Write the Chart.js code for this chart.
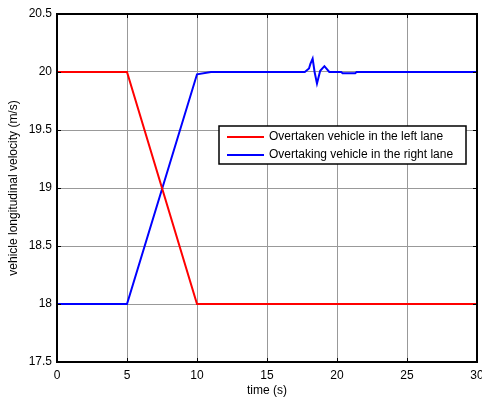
<!DOCTYPE html>
<html>
<head>
<meta charset="utf-8">
<script src="https://cdn.jsdelivr.net/npm/chart.js@4.4.0/dist/chart.umd.min.js"></script>
<style>
  html, body { margin: 0; padding: 0; background: #fff; }
  #wrap { width: 482px; height: 398px; }
</style>
</head>
<body>
<div id="wrap"><canvas id="chart"></canvas></div>
<script>
// Data
const seriesLabels = ['Overtaken vehicle in the left lane', 'Overtaking vehicle in the right lane'];
const timeLeft = [0, 5, 10, 30];
const speedLeft = [20, 20, 18, 18];
const timeRight = [0, 5, 10, 11, 17.7, 18.0, 18.1, 18.26, 18.4, 18.57, 18.8, 19.1, 19.45, 20.3, 20.4, 21.3, 21.4, 30];
const speedRight = [18, 18, 19.98, 20, 20, 20.03, 20.07, 20.115, 20.0, 19.9, 20.01, 20.05, 20.0, 20.0, 19.99, 19.99, 20, 20];
const xTicks = [0, 5, 10, 15, 20, 25, 30];
const yTicks = [17.5, 18, 18.5, 19, 19.5, 20, 20.5];

const FONT = 'Liberation Sans, Arial, sans-serif';
const toPoints = (xs, ys) => xs.map((x, i) => ({ x, y: ys[i] }));

// Box, inward ticks and legend like matlab
const matlabBox = {
  id: 'matlabBox',
  afterDatasetsDraw(chart) {
    const { ctx, chartArea: a, scales: { x, y } } = chart;
    ctx.save();
    ctx.strokeStyle = '#000';
    ctx.lineWidth = 1;
    ctx.beginPath();
    xTicks.forEach(v => {
      const px = Math.round(x.getPixelForValue(v)) + 0.5;
      ctx.moveTo(px, a.bottom); ctx.lineTo(px, a.bottom - 4);
      ctx.moveTo(px, a.top); ctx.lineTo(px, a.top + 4);
    });
    yTicks.forEach(v => {
      const py = Math.round(y.getPixelForValue(v)) + 0.5;
      ctx.moveTo(a.left, py); ctx.lineTo(a.left + 4, py);
      ctx.moveTo(a.right, py); ctx.lineTo(a.right - 4, py);
    });
    ctx.stroke();
    ctx.lineWidth = 2;
    ctx.strokeRect(a.left, a.top, a.right - a.left, a.bottom - a.top);
    ctx.restore();
  },
  afterDraw(chart) {
    const { ctx } = chart;
    const bx = 219, by = 126, bw = 247, bh = 38;
    ctx.save();
    ctx.fillStyle = '#fff';
    ctx.fillRect(bx, by, bw, bh);
    ctx.strokeStyle = '#000';
    ctx.lineWidth = 1.5;
    ctx.strokeRect(bx, by, bw, bh);
    ctx.font = '12px ' + FONT;
    ctx.textBaseline = 'middle';
    chart.data.datasets.forEach((ds, i) => {
      const ly = by + 11 + i * 18;
      ctx.strokeStyle = ds.borderColor;
      ctx.lineWidth = 2;
      ctx.beginPath();
      ctx.moveTo(227, ly); ctx.lineTo(264, ly);
      ctx.stroke();
      ctx.fillStyle = '#000';
      ctx.fillText(ds.label, 269, ly);
    });
    ctx.restore();
  }
};

new Chart(document.getElementById('chart'), {
  type: 'line',
  data: {
    datasets: [
      { label: seriesLabels[0], data: toPoints(timeLeft, speedLeft), borderColor: '#ff0000', borderWidth: 2, pointRadius: 0, tension: 0 },
      { label: seriesLabels[1], data: toPoints(timeRight, speedRight), borderColor: '#0000ff', borderWidth: 2, pointRadius: 0, tension: 0 },
    ],
  },
  options: {
    responsive: true,
    maintainAspectRatio: false,
    animation: false,
    layout: { padding: { top: 14, right: 5, left: 0, bottom: 0 } },
    plugins: { legend: { display: false }, tooltip: { enabled: false } },
    scales: {
      x: {
        type: 'linear', min: 0, max: 30,
        afterBuildTicks: s => { s.ticks = xTicks.map(v => ({ value: v })); },
        afterFit: s => { s.height = 36; s.paddingLeft = 0; s.paddingRight = 0; },
        ticks: { color: '#000', font: { family: FONT, size: 12 }, padding: 6, maxRotation: 0 },
        grid: { color: '#999', lineWidth: 1, borderDash: [2, 2], drawTicks: false },
        border: { display: false },
        title: { display: true, text: 'time (s)', color: '#000', font: { family: FONT, size: 12 }, padding: { top: 0, bottom: 0 } },
      },
      y: {
        min: 17.5, max: 20.5,
        afterBuildTicks: s => { s.ticks = yTicks.map(v => ({ value: v })); },
        afterFit: s => { s.width = 57; s.paddingTop = 0; s.paddingBottom = 0; },
        ticks: { color: '#000', font: { family: FONT, size: 12 }, padding: 5, callback: v => String(v) },
        grid: { color: '#999', lineWidth: 1, borderDash: [2, 2], drawTicks: false },
        border: { display: false },
        title: { display: true, text: 'vehicle longitudinal velocity (m/s)', color: '#000', font: { family: FONT, size: 12 }, padding: { top: 6, bottom: 0 } },
      },
    },
  },
  plugins: [matlabBox],
});
</script>
</body>
</html>
